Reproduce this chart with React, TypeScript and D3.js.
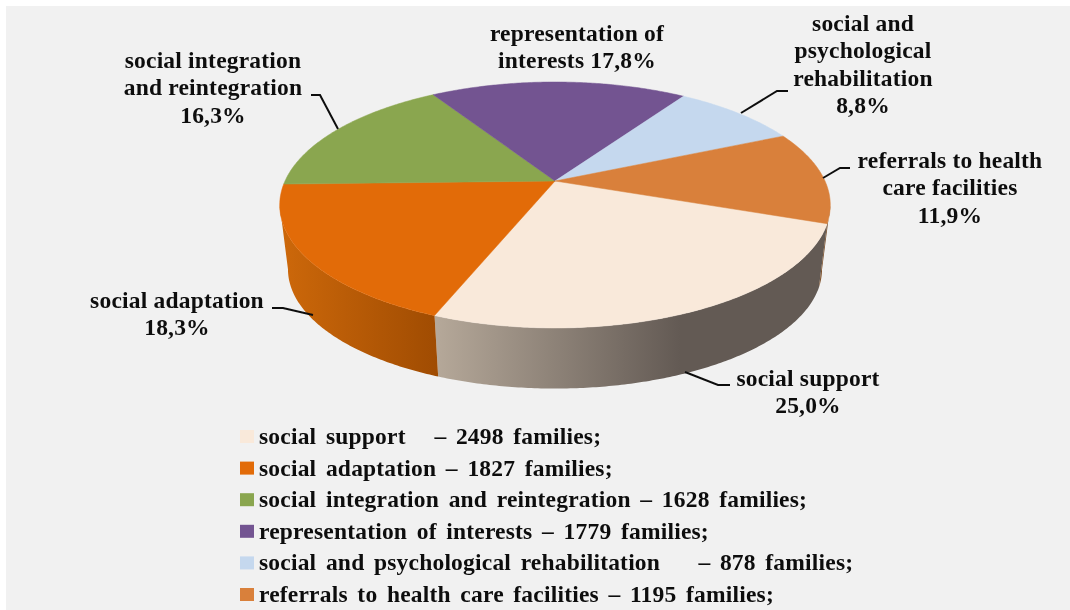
import * as d3 from "d3";

const categories = [
  "social support",
  "social adaptation",
  "social integration and reintegration",
  "representation of interests",
  "social and psychological rehabilitation",
  "referrals to health care facilities",
];
const families = [2498, 1827, 1628, 1779, 878, 1195];
const percents = ["25,0%", "18,3%", "16,3%", "17,8%", "8,8%", "11,9%"];
const colors = ["#f9e9da", "#e26b08", "#8aa64f", "#735491", "#c5d8ee", "#d9803b"];
const legendGaps = ["  ", "", "", "", "   ", ""];

const width = 1070;
const height = 610;
const font = "'Liberation Serif', 'Times New Roman', serif";

// pie seen in perspective: the apex is not in the middle of the ellipse
const apexX = 555;
const apexY = 181;
const radiusX = 270;
const radiusY = 118.3;
const tilt = 0.195;
const depth = 65;
const bottomScale = 0.97;

const project = (angle: number, floor = false): [number, number] => {
  const u = Math.sin(angle);
  const v = -Math.cos(angle);
  const w = 1 - tilt * v;
  const s = floor ? bottomScale : 1;
  return [
    apexX + (s * radiusX * u) / w,
    apexY + (floor ? depth : 0) + (s * radiusY * v) / w,
  ];
};

const startAngle = (109.7 * Math.PI) / 180;
const arcs = d3
  .pie<number>()
  .sort(null)
  .startAngle(startAngle)
  .endAngle(startAngle + Math.PI * 2)(families);

const line = d3.line();
const arcAngles = (a: number, b: number) => [...d3.range(a, b, 0.01), b];
// the wall only shows where it faces the viewer
const facesViewer = (a: number) => -Math.cos(a) >= tilt;

const wallGradients = [
  { id: "wall0", x1: 437, x2: 680, from: "#b5a899", to: "#635a54" },
  { id: "wall1", x1: 287, x2: 437, from: "#cb670a", to: "#a04c02" },
  { id: "wall5", x1: 815, x2: 830, from: "#8a5a30", to: "#6e4a2c" },
];

const labels = [
  { lines: ["social support", percents[0]], x: 808, y: 386, leader: [[730, 385], [718, 385], [685, 372]] },
  { lines: ["social adaptation", percents[1]], x: 177, y: 308, leader: [[272, 308], [283, 308], [313, 315]] },
  { lines: ["social integration", "and reintegration", percents[2]], x: 213, y: 68, leader: [[311, 95], [320, 95], [338, 129]] },
  { lines: ["representation of", `interests ${percents[3]}`], x: 577, y: 41, leader: null },
  { lines: ["social and", "psychological", "rehabilitation", percents[4]], x: 863, y: 31, leader: [[788, 91], [777, 91], [741, 113]] },
  { lines: ["referrals to health", "care facilities", percents[5]], x: 950, y: 168, leader: [[850, 168], [840, 168], [823, 178]] },
];

export default function App() {
  const legendY = d3.scalePoint<number>().domain(d3.range(categories.length)).range([444, 602]);

  return (
    <svg
      width={width}
      height={height}
      style={{ position: "absolute", left: 0, top: 0 }}
      fontFamily={font}
      fontWeight="bold"
      fontSize={23.5}
      fill="#111"
    >
      <defs>
        {wallGradients.map((g) => (
          <linearGradient key={g.id} id={g.id} gradientUnits="userSpaceOnUse" x1={g.x1} x2={g.x2} y1={0} y2={0}>
            <stop offset="0" stopColor={g.from} />
            <stop offset="1" stopColor={g.to} />
          </linearGradient>
        ))}
        <filter id="soft" x="-5%" y="-5%" width="110%" height="110%">
          <feGaussianBlur stdDeviation="0.4" />
        </filter>
      </defs>
      <rect x={6} y={6} width={width - 6} height={height - 6} fill="#f1f1f1" />

      {arcs.map((d, i) => {
        const angles = arcAngles(d.startAngle, d.endAngle);
        const quads = angles.slice(1).flatMap((a, k) => {
          const b = angles[k];
          if (!facesViewer(a) || !facesViewer(b)) return [];
          return [line([project(b), project(a), project(a, true), project(b, true)]) + "Z"];
        });
        const grad = wallGradients.find((g) => g.id === `wall${i}`);
        if (!grad || !quads.length) return null;
        return <path key={`wall-${i}`} d={quads.join("")} fill={`url(#${grad.id})`} />;
      })}

      {arcs.map((d, i) => {
        const points = arcAngles(d.startAngle, d.endAngle).map((a) => project(a));
        return (
          <path
            key={`slice-${i}`}
            d={line([[apexX, apexY], ...points]) + "Z"}
            fill={colors[i]}
            stroke={colors[i]}
            strokeWidth={0.5}
          />
        );
      })}

      <g filter="url(#soft)">
        {labels.map((l, i) => (
          <g key={`label-${i}`}>
            {l.leader && (
              <path d={line(l.leader as [number, number][]) ?? ""} fill="none" stroke="#111" strokeWidth={2} />
            )}
            {l.lines.map((t, j) => (
              <text key={j} x={l.x} y={l.y + j * 27.3} textAnchor="middle" letterSpacing={0.2}>
                {t}
              </text>
            ))}
          </g>
        ))}

        {categories.map((c, i) => (
          <text
            key={`legend-${i}`}
            x={259}
            y={legendY(i)}
            letterSpacing={0.2}
            wordSpacing={3.5}
            style={{ whiteSpace: "pre" }}
          >
            {`${c}${legendGaps[i]} – ${families[i]} families;`}
          </text>
        ))}
      </g>
      {categories.map((c, i) => (
        <rect key={`swatch-${i}`} x={240} y={legendY(i)! - 14} width={14} height={13} fill={colors[i]} />
      ))}
    </svg>
  );
}
